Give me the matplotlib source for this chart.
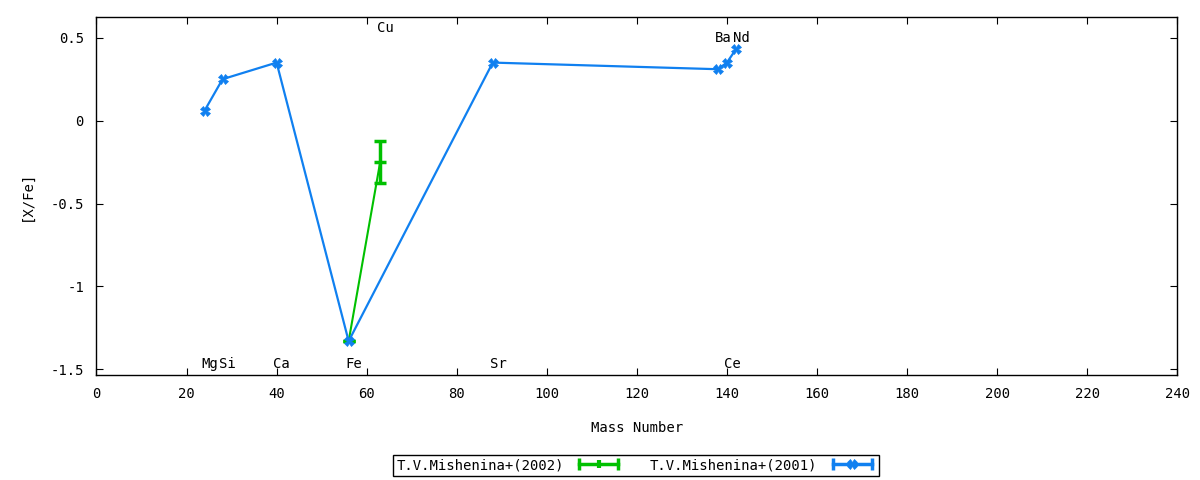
import matplotlib
matplotlib.use("Agg")
import matplotlib.pyplot as plt
from matplotlib.lines import Line2D
from matplotlib.legend_handler import HandlerTuple, HandlerLine2D

# T.V.Mishenina+(2001) abundances
mass_2001 = [24, 28, 40, 56, 88, 138, 140, 142]
xfe_2001 = [0.06, 0.25, 0.35, -1.33, 0.35, 0.31, 0.35, 0.43]

# T.V.Mishenina+(2002) abundances
mass_2002 = [56, 63]
xfe_2002 = [-1.33, -0.25]
err_2002 = [0.0, 0.125]

# element labels: name, x, y
label_names = ["Mg", "Si", "Ca", "Fe", "Sr", "Ce", "Cu", "Ba", "Nd"]
label_x = [24, 28, 40, 56, 88, 140, 63, 138, 142]
label_y = [-1.465, -1.465, -1.465, -1.465, -1.465, -1.465, 0.56, 0.50, 0.50]

x_ticks = list(range(0, 241, 20))
y_ticks = [0.5, 0, -0.5, -1, -1.5]
y_tick_labels = ["0.5", "0", "-0.5", "-1", "-1.5"]

blue = "#1080f0"
green = "#00c000"

plt.rcParams["font.family"] = "DejaVu Sans Mono"
plt.rcParams["font.size"] = 10

fig = plt.figure(figsize=(12, 4.8), dpi=100)
ax = fig.add_axes([0.0804, 0.2188, 0.9006, 0.7458])

ax.errorbar(mass_2002, xfe_2002, yerr=err_2002, color=green, lw=1.5,
            elinewidth=2.5, capsize=4, capthick=2.5, marker="_", ms=8, mew=2.5, zorder=3)
ax.plot(mass_2001, xfe_2001, color=blue, lw=1.6, marker="X", ms=7, mew=0.5, zorder=4)

for name, x, y in zip(label_names, label_x, label_y):
    ax.text(x - 0.7, y, name, ha="left", va="center", fontsize=10)

ax.set_xlim(0, 240)
ax.set_ylim(-1.534, 0.625)
ax.set_xticks(x_ticks)
ax.set_yticks(y_ticks)
ax.set_yticklabels(y_tick_labels)
ax.tick_params(direction="in", length=5, top=True, right=True, labeltop=False, labelright=False, pad=9)
for s in ax.spines.values():
    s.set_linewidth(1)

ax.set_xlabel("Mass Number", labelpad=14)
ax.set_ylabel("[X/Fe]", labelpad=12)

# legend styled like gnuplot errorbar keys
cap_g = Line2D([], [], color=green, lw=2.5, marker="|", ms=8, mew=2.5)
mk_g = Line2D([], [], color=green, lw=0, marker="|", ms=6, mew=3)
cap_b = Line2D([], [], color=blue, lw=2.5, marker="|", ms=8, mew=2.5)
mk_b = Line2D([], [], color=blue, lw=0, marker="X", ms=7, mew=0.5)
leg = fig.legend([(cap_g, mk_g), (cap_b, mk_b)],
                 ["T.V.Mishenina+(2002)", "T.V.Mishenina+(2001)"],
                 handler_map={tuple: HandlerTuple(ndivide=1),
                              cap_g: HandlerLine2D(numpoints=2),
                              cap_b: HandlerLine2D(numpoints=2)},
                 numpoints=1, markerfirst=False, ncol=2, loc="center",
                 bbox_to_anchor=(0.53, 0.031), fancybox=False, framealpha=1,
                 edgecolor="black", handlelength=3.4, columnspacing=2.0,
                 borderpad=0.25, handletextpad=0.8)
leg.get_frame().set_linewidth(1)

fig.savefig("out.png", dpi=100)
